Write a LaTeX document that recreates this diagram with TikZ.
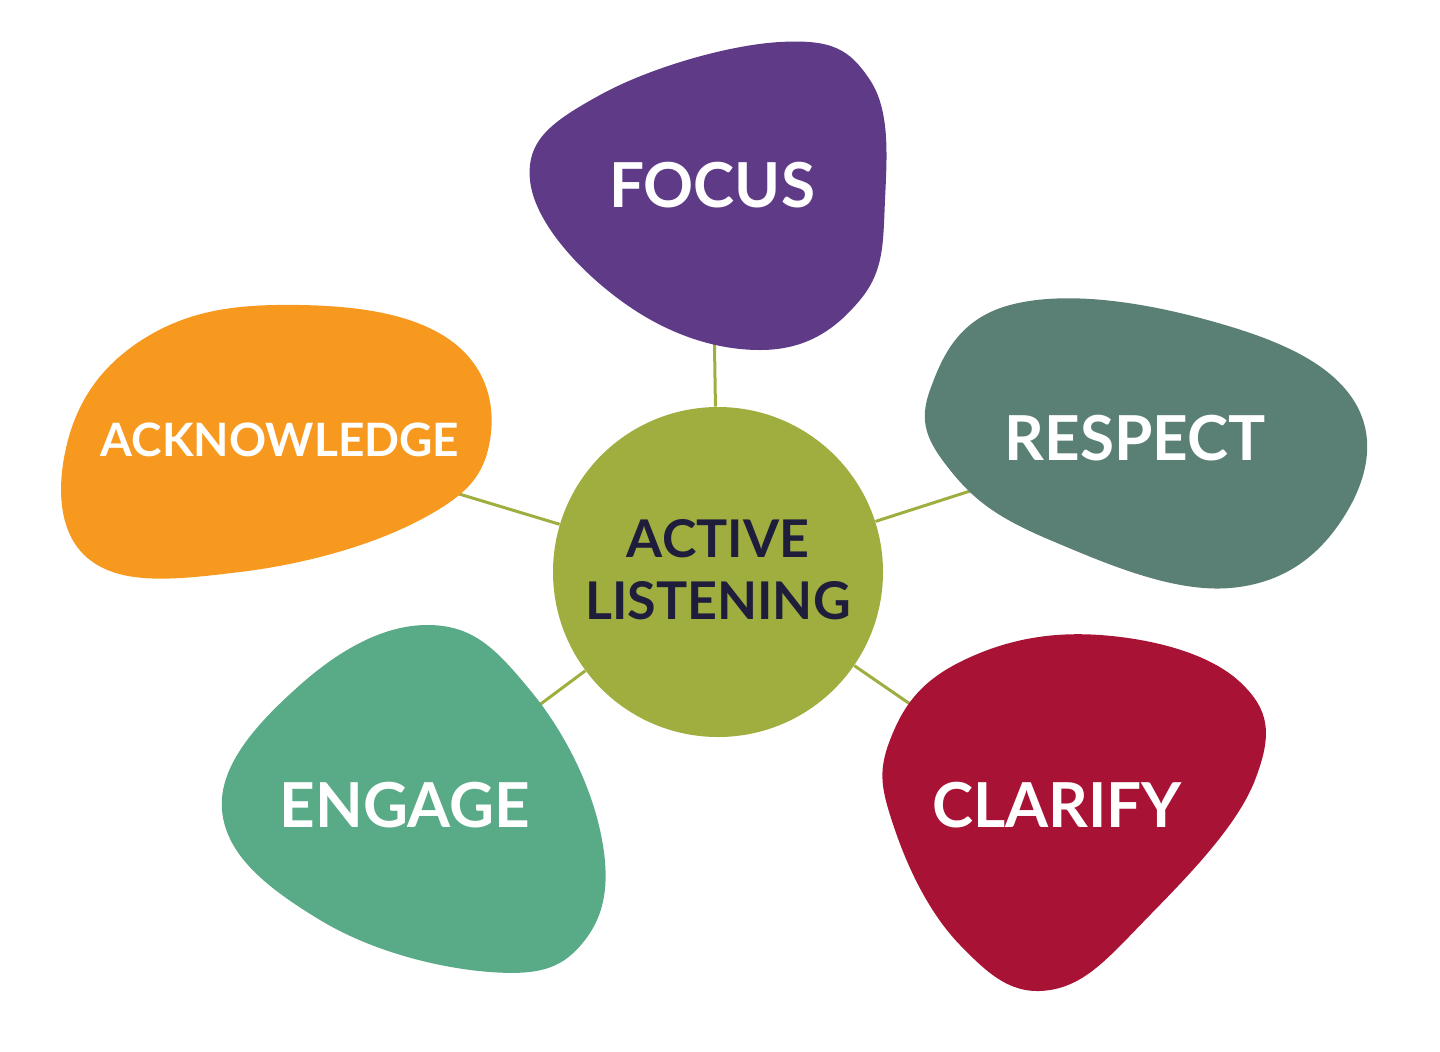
\documentclass[tikz,border=0pt]{standalone}
\usepackage{fontspec}
\setmainfont{Lato}
\usetikzlibrary{positioning}
\pgfdeclarelayer{bg}
\pgfsetlayers{bg,main}
\definecolor{hub}{HTML}{A0AE3F}
\definecolor{focuscol}{HTML}{5E3A87}
\definecolor{respectcol}{HTML}{5A7F74}
\definecolor{clarifycol}{HTML}{A81234}
\definecolor{engagecol}{HTML}{59AA87}
\definecolor{ackcol}{HTML}{F7991E}
\definecolor{navy}{HTML}{1E1E3C}
\tikzset{
  blob/.style={fill=#1, draw=none},
  petal/.style={text=white, font=\bfseries\fontsize{31}{31}\selectfont},
  link/.style={draw=hub, line width=1.5pt}
}
\begin{document}
\begin{tikzpicture}[x=0.5pt,y=-0.5pt]
  \useasboundingbox (0,0) rectangle (1440,1051);

  % petals
  \fill[blob=focuscol] plot[smooth cycle, tension=0.7] coordinates
    {(530,180) (600,95) (780,42) (870,80) (885,200) (860,300) (760,350) (620,300)};
  \fill[blob=respectcol] plot[smooth cycle, tension=0.7] coordinates
    {(930,390) (1010,305) (1200,318) (1350,395) (1345,515) (1230,588) (1050,540) (950,470)};
  \fill[blob=clarifycol] plot[smooth cycle, tension=0.7] coordinates
    {(890,740) (960,662) (1100,635) (1240,682) (1255,780) (1150,915) (1050,990) (960,945) (895,830)};
  \fill[blob=engagecol] plot[smooth cycle, tension=0.7] coordinates
    {(222,810) (300,685) (430,625) (530,690) (600,830) (585,940) (490,972) (320,920)};
  \fill[blob=ackcol] plot[smooth cycle, tension=0.7] coordinates
    {(68,440) (150,335) (300,305) (450,340) (490,440) (420,520) (240,572) (90,560)};

  \node[circle, fill=hub, minimum size=165pt, inner sep=0pt] (hub) at (718,572) {};
  \node[align=center, text=navy, font=\bfseries\fontsize{26}{31}\selectfont] (hubtext) at (718,570) {ACTIVE\\LISTENING};

  \node[petal] (focus) at (712,185) {FOCUS};
  \node[petal] (respect) at (1135,438) {RESPECT};
  \node[petal] (clarify) at (1057,805) {CLARIFY};
  \node[petal] (engage) at (405,805) {ENGAGE};
  \node[petal, font=\bfseries\fontsize{23}{23}\selectfont] (ack) at (280,440) {ACKNOWLEDGE};

  \begin{pgfonlayer}{bg}
    \draw[link] (hub) -- (focus);
    \draw[link] (hub) -- (respect);
    \draw[link] (hub) -- (clarify);
    \draw[link] (hub) -- (engage);
    \draw[link] (hub) -- (ack);
  \end{pgfonlayer}
\end{tikzpicture}
\end{document}
